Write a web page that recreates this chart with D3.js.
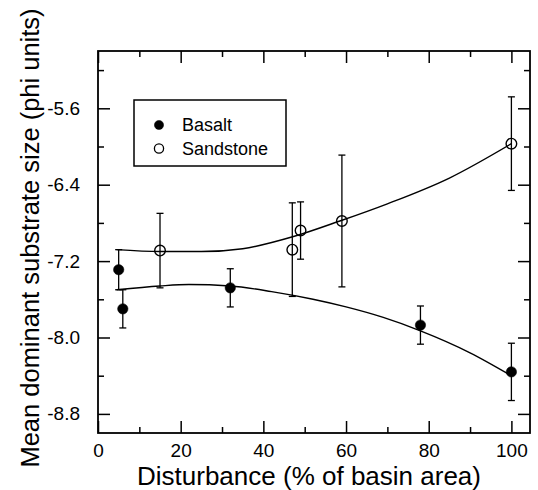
<!DOCTYPE html>
<html>
<head>
<meta charset="utf-8">
<script src="https://cdn.jsdelivr.net/npm/d3@7"></script>
<style>
  body { margin: 0; background: #fff; }
  svg { display: block; font-family: "Liberation Sans", Arial, Helvetica, sans-serif; }
</style>
</head>
<body>
<div id="chart"></div>
<script>
"use strict";

// Data
var basaltX = [5, 6, 32, 78, 100];
var basaltY = [-7.29, -7.70, -7.48, -7.87, -8.36];
var basaltErr = [0.21, 0.20, 0.20, 0.20, 0.30];

var sandX = [15, 47, 49, 59, 100];
var sandY = [-7.09, -7.08, -6.88, -6.78, -5.97];
var sandErr = [0.39, 0.49, 0.30, 0.69, 0.49];

// fitted curves (read as points along the drawn lines)
var basaltFitX = [4.5, 15, 22, 32, 42, 52, 60, 69, 78, 90, 100];
var basaltFitY = [-7.50, -7.46, -7.445, -7.46, -7.52, -7.60, -7.68, -7.79, -7.93, -8.16, -8.40];
var sandFitX = [4.5, 15, 25, 35, 47.5, 58.5, 70, 85, 100];
var sandFitY = [-7.08, -7.10, -7.10, -7.07, -6.94, -6.78, -6.60, -6.33, -5.97];

var xMajor = [0, 20, 40, 60, 80, 100];
var xMinor = [10, 30, 50, 70, 90];
var yMajor = [-5.6, -6.4, -7.2, -8.0, -8.8];
var yMinor = [-5.2, -6.0, -6.8, -7.6, -8.4];

var seriesNames = ["Basalt", "Sandstone"];

var W = 538, H = 490;
var margin = { top: 51, right: 8, bottom: 57, left: 98 };
var plotL = margin.left, plotR = W - margin.right,
    plotT = margin.top, plotB = H - margin.bottom;

var svg = d3.select("#chart")
            .append("svg")
            .attr("width", W)
            .attr("height", H);

var x = d3.scaleLinear().domain([0, 104.5]).range([plotL, plotR]);
var y = d3.scaleLinear().domain([-9.0, -5.0]).range([plotB, plotT]);

var majorLen = 12, minorLen = 6;
var noDomain = function(g) { g.select(".domain").remove(); };

// Axes: ticks on all four sides, pointing inward
svg.append("g")
   .attr("transform", "translate(0," + plotB + ")")
   .call(d3.axisBottom(x).tickValues(xMajor).tickSize(-majorLen).tickPadding(17).tickFormat(d3.format("d")))
   .call(function(g) {
     g.select(".domain").remove();
     g.selectAll("text").attr("font-size", 19).attr("fill", "#000").attr("dy", "0.35em");
   });
svg.append("g")
   .attr("transform", "translate(0," + plotB + ")")
   .call(d3.axisBottom(x).tickValues(xMinor).tickSize(-minorLen).tickFormat(""))
   .call(noDomain);
svg.append("g")
   .attr("transform", "translate(0," + plotT + ")")
   .call(d3.axisTop(x).tickValues(xMajor).tickSize(-majorLen).tickFormat(""))
   .call(noDomain);
svg.append("g")
   .attr("transform", "translate(0," + plotT + ")")
   .call(d3.axisTop(x).tickValues(xMinor).tickSize(-minorLen).tickFormat(""))
   .call(noDomain);

svg.append("g")
   .attr("transform", "translate(" + plotL + ",0)")
   .call(d3.axisLeft(y).tickValues(yMajor).tickSize(-majorLen).tickPadding(18)
           .tickFormat(function(d) { return d.toFixed(1); }))
   .call(function(g) {
     g.select(".domain").remove();
     g.selectAll("text").attr("font-size", 19).attr("fill", "#000");
   });
svg.append("g")
   .attr("transform", "translate(" + plotL + ",0)")
   .call(d3.axisLeft(y).tickValues(yMinor).tickSize(-minorLen).tickFormat(""))
   .call(noDomain);
svg.append("g")
   .attr("transform", "translate(" + plotR + ",0)")
   .call(d3.axisRight(y).tickValues(yMajor).tickSize(-majorLen).tickFormat(""))
   .call(noDomain);
svg.append("g")
   .attr("transform", "translate(" + plotR + ",0)")
   .call(d3.axisRight(y).tickValues(yMinor).tickSize(-minorLen).tickFormat(""))
   .call(noDomain);

svg.selectAll(".tick line").attr("stroke", "#000").attr("stroke-width", 1.5);

// Frame
svg.append("rect")
   .attr("x", plotL).attr("y", plotT)
   .attr("width", plotR - plotL).attr("height", plotB - plotT)
   .attr("fill", "none").attr("stroke", "#000").attr("stroke-width", 1.8);

// Axis titles
svg.append("text")
   .attr("x", (plotL + plotR) / 2 - 5)
   .attr("y", 485)
   .attr("text-anchor", "middle")
   .attr("font-size", 26)
   .text("Disturbance (% of basin area)");

svg.append("text")
   .attr("transform", "translate(39," + 238 + ") rotate(-90)")
   .attr("text-anchor", "middle")
   .attr("font-size", 25.5)
   .text("Mean dominant substrate size (phi units)");

// Fitted curves
var line = d3.line()
             .x(function(d) { return x(d[0]); })
             .y(function(d) { return y(d[1]); })
             .curve(d3.curveMonotoneX);

svg.append("path")
   .datum(d3.zip(basaltFitX, basaltFitY))
   .attr("d", line)
   .attr("fill", "none").attr("stroke", "#000").attr("stroke-width", 1.4);
svg.append("path")
   .datum(d3.zip(sandFitX, sandFitY))
   .attr("d", line)
   .attr("fill", "none").attr("stroke", "#000").attr("stroke-width", 1.4);

// Error bars + points
var drawSeries = function(xs, ys, errs, filled) {
  var data = d3.zip(xs, ys, errs);
  var g = svg.append("g");
  var bars = g.selectAll("g.err")
              .data(data)
              .enter()
              .append("g");
  bars.append("line")
      .attr("x1", function(d) { return x(d[0]); })
      .attr("x2", function(d) { return x(d[0]); })
      .attr("y1", function(d) { return y(d[1] + d[2]); })
      .attr("y2", function(d) { return y(d[1] - d[2]); })
      .attr("stroke", "#000").attr("stroke-width", 1.3);
  [1, -1].forEach(function(s) {
    bars.append("line")
        .attr("x1", function(d) { return x(d[0]) - 3.5; })
        .attr("x2", function(d) { return x(d[0]) + 3.5; })
        .attr("y1", function(d) { return y(d[1] + s * d[2]); })
        .attr("y2", function(d) { return y(d[1] + s * d[2]); })
        .attr("stroke", "#000").attr("stroke-width", 1.3);
  });
  g.selectAll("circle")
   .data(data)
   .enter()
   .append("circle")
   .attr("cx", function(d) { return x(d[0]); })
   .attr("cy", function(d) { return y(d[1]); })
   .attr("r", filled ? 5.2 : 5.3)
   .attr("fill", filled ? "#000" : "none")
   .attr("stroke", "#000")
   .attr("stroke-width", filled ? 0.5 : 1.4);
};

drawSeries(basaltX, basaltY, basaltErr, true);
drawSeries(sandX, sandY, sandErr, false);

// Legend
var legend = svg.append("g");
legend.append("rect")
      .attr("x", 134).attr("y", 100)
      .attr("width", 152).attr("height", 66)
      .attr("fill", "#fff").attr("stroke", "#000").attr("stroke-width", 1.5);
seriesNames.forEach(function(name, i) {
  var cy = 125 + i * 23.5;
  legend.append("circle")
        .attr("cx", 159).attr("cy", cy).attr("r", 4.6)
        .attr("fill", i === 0 ? "#000" : "none")
        .attr("stroke", "#000").attr("stroke-width", i === 0 ? 0.5 : 1.3);
  legend.append("text")
        .attr("x", 182).attr("y", cy + 6.3)
        .attr("font-size", 18)
        .text(name);
});
</script>
</body>
</html>
